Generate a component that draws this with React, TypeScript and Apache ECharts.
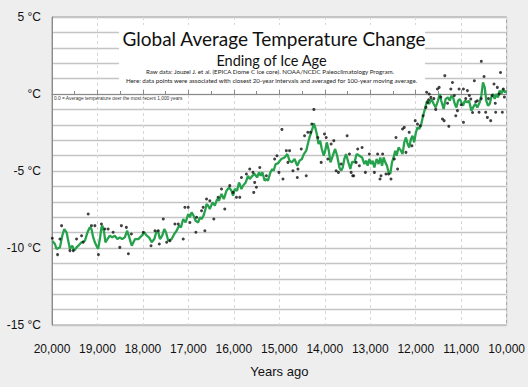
import React, { useEffect, useRef } from "react";
import * as echarts from "echarts";

const xTickYears = [10000, 20000];
const yLabelValues = [5, 0, -5, -10, -15];

const lineYears = [19990,19936,19900,19825,19774,19730,19680,19643,19605,19555,19510,19460,19408,19350,19276,19219,19167,19132,19094,19057,19022,18985,18947,18912,18890,18853,18825,18781,18728,18678,18620,18561,18509,18458,18399,18349,18311,18268,18246,18173,18101,18026,17969,17917,17866,17807,17750,17697,17662,17625,17575,17531,17493,17443,17368,17311,17259,17208,17164,17114,17061,17004,16967,16930,16886,16842,16785,16748,16711,16667,16623,16601,16566,16529,16469,16419,16368,16325,16272,16221,16162,16105,16053,16018,15980,15930,15886,15833,15798,15739,15689,15651,15592,15542,15491,15447,15410,15373,15322,15285,15250,15197,15154,15125,15081,15031,14956,14884,14825,14775,14724,14665,14605,14555,14504,14460,14408,14373,14336,14298,14263,14241,14211,14175,14138,14101,14066,14022,13991,13956,13912,13875,13825,13772,13728,13678,13640,13605,13570,13533,13482,13438,13399,13349,13298,13239,13180,13129,13092,13057,13020,12982,12947,12910,12860,12816,12779,12741,12706,12669,12632,12597,12559,12522,12487,12450,12421,12377,12325,12289,12252,12215,12178,12143,12105,12070,12033,11996,11961,11924,11886,11838,11787,11750,11706,11656,11604,11561,11511,11474,11439,11386,11342,11292,11250,11215,11178,11140,11105,11068,11031,10996,10958,10921,10871,10827,10776,10739,10689,10645,10592,10557,10520,10482,10447,10410,10373,10338,10301,10263,10228,10191,10154,10118,10081,10044,10010];
const lineTemps = [-9.55,-9.74,-10.06,-9.96,-9.2,-8.77,-8.98,-9.53,-10.06,-9.85,-10.17,-9.96,-9.81,-9.63,-9.53,-8.98,-8.66,-8.77,-9.31,-9.63,-9.85,-10.06,-9.42,-8.66,-8.55,-8.98,-9.63,-9.42,-9.2,-9.31,-9.2,-9.42,-9.31,-9.42,-9.31,-8.88,-9.2,-9.63,-9.85,-9.42,-9.42,-9.2,-8.98,-9.2,-9.31,-9.63,-9.42,-8.88,-8.98,-9.42,-9.2,-8.77,-8.98,-9.53,-9.42,-9.09,-8.88,-8.55,-8.66,-8.12,-8.34,-7.79,-8.01,-7.69,-7.9,-8.23,-8.34,-8.01,-8.12,-7.9,-7.47,-7.14,-7.25,-7.47,-7.04,-7.25,-6.82,-6.93,-6.49,-6.82,-6.28,-6.06,-6.28,-6.6,-6.17,-6.28,-5.74,-6.17,-5.95,-5.74,-5.31,-5.52,-5.31,-5.19,-5.42,-5.09,-5.31,-5.09,-5.63,-5.52,-5.63,-5.09,-4.87,-4.98,-4.55,-4.5,-4.22,-4.12,-3.9,-4.33,-4.44,-4.22,-4.66,-4.33,-4.22,-3.9,-3.68,-3.25,-2.82,-2.49,-2.17,-1.9,-2.17,-2.6,-3.25,-3.03,-3.57,-4.01,-3.68,-3.14,-3.68,-4.44,-4.01,-3.57,-4.01,-4.77,-4.98,-4.77,-4.22,-3.9,-4.44,-4.87,-4.4,-4.44,-3.9,-4.01,-4.12,-4.55,-4.33,-4.66,-4.22,-4.55,-4.33,-4.77,-4.22,-4.55,-4.12,-4.66,-4.12,-4.44,-4.66,-5.09,-5.19,-4.44,-4.12,-3.68,-4.01,-3.47,-3.68,-3.9,-3.14,-2.82,-3.25,-3.47,-2.92,-2.71,-3.14,-2.49,-2.17,-2.27,-2.06,-1.41,-0.87,-0.44,-0.65,-0.32,-0.65,-0.87,-0.44,0.0,-0.44,-0.97,-0.32,-0.22,-0.44,-0.11,-0.22,-0.65,-0.87,-0.44,-0.32,-0.54,-0.76,-0.44,-0.54,-0.44,-1.08,-0.87,-0.65,-0.87,-0.54,-0.11,0.75,0.43,-0.44,-0.76,-0.65,-0.22,0.0,-0.32,0.0,-0.22,0.22,0.0,0.32,0.11,0.2];

const dotYears = [19993,19877,19825,19789,19605,19533,19460,19350,19314,19204,19132,19057,18978,18912,18838,18765,18656,18509,18474,18364,18320,18254,17991,17822,17735,17662,17640,17552,17478,17406,17296,17223,17114,17077,17004,16967,16836,16820,16711,16638,16601,16675,16529,16441,16346,16272,16200,16090,16018,15943,15870,15833,15724,15651,15579,15563,15542,15504,15430,15285,15103,15052,15009,14943,14920,14846,14810,14775,14701,14605,14591,14518,14445,14408,14373,14313,14285,14240,14154,14079,14007,13969,13934,13860,13802,13750,13700,13640,13509,13458,13421,13386,13364,13311,13276,13239,13180,13107,13020,12910,12838,12785,12763,12728,12654,12597,12544,12471,12434,12399,12289,12252,12215,12143,12083,12011,11961,11902,11838,11776,11760,11740,11717,11704,11667,11600,11560,11522,11485,11450,11411,11375,11360,11300,11272,11228,11192,11150,11119,11082,11046,11000,10951,10950,10900,10863,10820,10789,10750,10710,10680,10644,10607,10560,10557,10497,10461,10424,10400,10351,10320,10278,10250,10241,10205,10168,10135,10095,10073,10050];
const dotTemps = [-9.37,-10.43,-9.42,-8.55,-10.17,-10.17,-9.42,-9.2,-9.63,-7.79,-8.55,-8.55,-10.43,-8.44,-8.77,-8.77,-8.98,-9.96,-8.55,-8.66,-10.37,-9.09,-8.98,-9.85,-8.88,-8.88,-9.74,-8.12,-9.63,-9.53,-8.44,-8.44,-9.42,-7.36,-7.36,-8.34,-8.98,-8.01,-7.58,-8.88,-6.82,-7.36,-6.93,-8.12,-6.71,-6.17,-7.47,-5.95,-6.39,-6.71,-6.71,-5.42,-5.19,-4.87,-5.09,-6.39,-5.74,-6.06,-4.77,-5.31,-4.22,-4.01,-5.09,-2.3,-5.52,-3.68,-4.44,-3.68,-4.98,-5.42,-4.87,-3.57,-2.71,-5.31,-2.49,-2.49,-1.95,-1.0,-2.82,-4.44,-2.6,-2.82,-4.22,-3.25,-3.03,-4.98,-5.09,-4.55,-2.71,-3.9,-5.09,-5.31,-5.31,-4.44,-3.57,-4.66,-3.47,-5.09,-3.9,-5.09,-3.9,-5.52,-5.31,-3.9,-5.19,-5.19,-5.52,-4.22,-2.82,-4.87,-2.27,-2.17,-3.79,-2.49,-3.36,-1.73,-1.95,-2.06,-1.41,-0.87,0.11,-0.55,-0.37,0.0,-0.22,-0.3,-1.0,0.32,0.43,-0.2,-1.62,-1.73,1.19,-0.6,-2.1,0.32,0.75,-0.1,-1.41,-1.08,0.32,-0.7,0.32,-1.84,-0.3,0.22,-0.1,-0.32,-1.2,0.86,-0.5,-0.44,-1.19,-0.3,2.12,1.14,-1.19,-1.52,-0.3,-1.73,-0.1,0.65,-0.6,-1.19,0.43,0.0,1.4,-1.19,0.32,-0.2];

const titleText = "Global Average Temperature Change";
const subtitleText = "Ending of Ice Age";
const sourceLine1 = "Raw data: Jouzel J. et al. (EPICA Dome C ice core). NOAA/NCDC Paleoclimatology Program.";
const sourceLine2 = "Here: data points were associated with closest 20-year intervals and averaged for 100-year moving average.";
const noteText = "0.0 = Average temperature over the most recent 1,000 years";
const xAxisName = "Years ago";

export default function App() {
  const ref = useRef<HTMLDivElement>(null);
  useEffect(() => {
    document.body.style.margin = "0";
    if (!ref.current) return;
    const chart = echarts.init(ref.current, null, { renderer: "svg" });
    const lineData = lineYears.map((y, i) => [y, lineTemps[i]]);
    const dotData = dotYears.map((y, i) => [y, dotTemps[i]]);
    chart.setOption({
      animation: false,
      backgroundColor: "#eeeeee",
      grid: {
        left: 52, right: 21, top: 17, bottom: 62,
        show: true, backgroundColor: "#ffffff", borderColor: "#9a9a9a", borderWidth: 1,
      },
      xAxis: {
        type: "value",
        min: xTickYears[0], max: xTickYears[1], interval: 1000, inverse: true,
        axisLine: { show: true, lineStyle: { color: "#8a8a8a", width: 1 } },
        axisTick: { show: true, inside: true, length: 4, lineStyle: { color: "#8a8a8a" } },
        minorTick: { show: true, splitNumber: 2, length: 3, lineStyle: { color: "#8a8a8a" } },
        splitLine: { show: true, lineStyle: { color: "#d6d6d6", type: [3, 3], width: 1 } },
        axisLabel: {
          formatter: (v: number) => v.toLocaleString("en-US"),
          fontFamily: "Liberation Sans", fontSize: 12, color: "#111", margin: 18,
        },
        name: xAxisName, nameLocation: "middle", nameGap: 40,
        nameTextStyle: { fontFamily: "Liberation Sans", fontSize: 13, color: "#111" },
      },
      yAxis: {
        type: "value", min: -15, max: 5, interval: 1,
        axisLine: { show: true, lineStyle: { color: "#8a8a8a" } },
        axisTick: { show: false },
        splitLine: { show: true, lineStyle: { color: "#c4c4c4", width: 1.3 } },
        axisLabel: {
          formatter: (v: number) =>
            yLabelValues.includes(v) ? (v === 0 ? "°C" : `${v} °C`) : "",
          fontFamily: "Liberation Sans", fontSize: 12, color: "#111", margin: 11,
        },
      },
      series: [
        {
          type: "line", data: lineData, showSymbol: false, symbol: "none",
          lineStyle: { color: "#27a24c", width: 2.3 }, z: 3,
        },
        {
          type: "scatter", data: dotData, symbol: "circle", symbolSize: 3,
          itemStyle: { color: "#111" }, z: 4,
        },
      ],
      graphic: [
        { type: "rect", z: 10, shape: { x: 119, y: 25, width: 306, height: 62 }, style: { fill: "#ffffff" } },
        { type: "text", z: 11, x: 274, y: 38.5, style: { text: titleText, align: "center", verticalAlign: "middle", font: "19px Lato", fill: "#111" } },
        { type: "text", z: 11, x: 271.5, y: 60, style: { text: subtitleText, align: "center", verticalAlign: "middle", font: "14.5px Lato", fill: "#111" } },
        { type: "text", z: 11, x: 270, y: 71.7, style: { text: sourceLine1, align: "center", verticalAlign: "middle", font: "6.2px Lato", fill: "#222" } },
        { type: "text", z: 11, x: 271.5, y: 80, style: { text: sourceLine2, align: "center", verticalAlign: "middle", font: "6.2px Lato", fill: "#222" } },
        { type: "text", z: 11, x: 54, y: 98.7, style: { text: noteText, align: "left", verticalAlign: "middle", font: "4.8px 'Liberation Sans'", fill: "#333" } },
      ],
    });
    return () => chart.dispose();
  }, []);
  return <div ref={ref} style={{ width: 528, height: 387 }} />;
}
